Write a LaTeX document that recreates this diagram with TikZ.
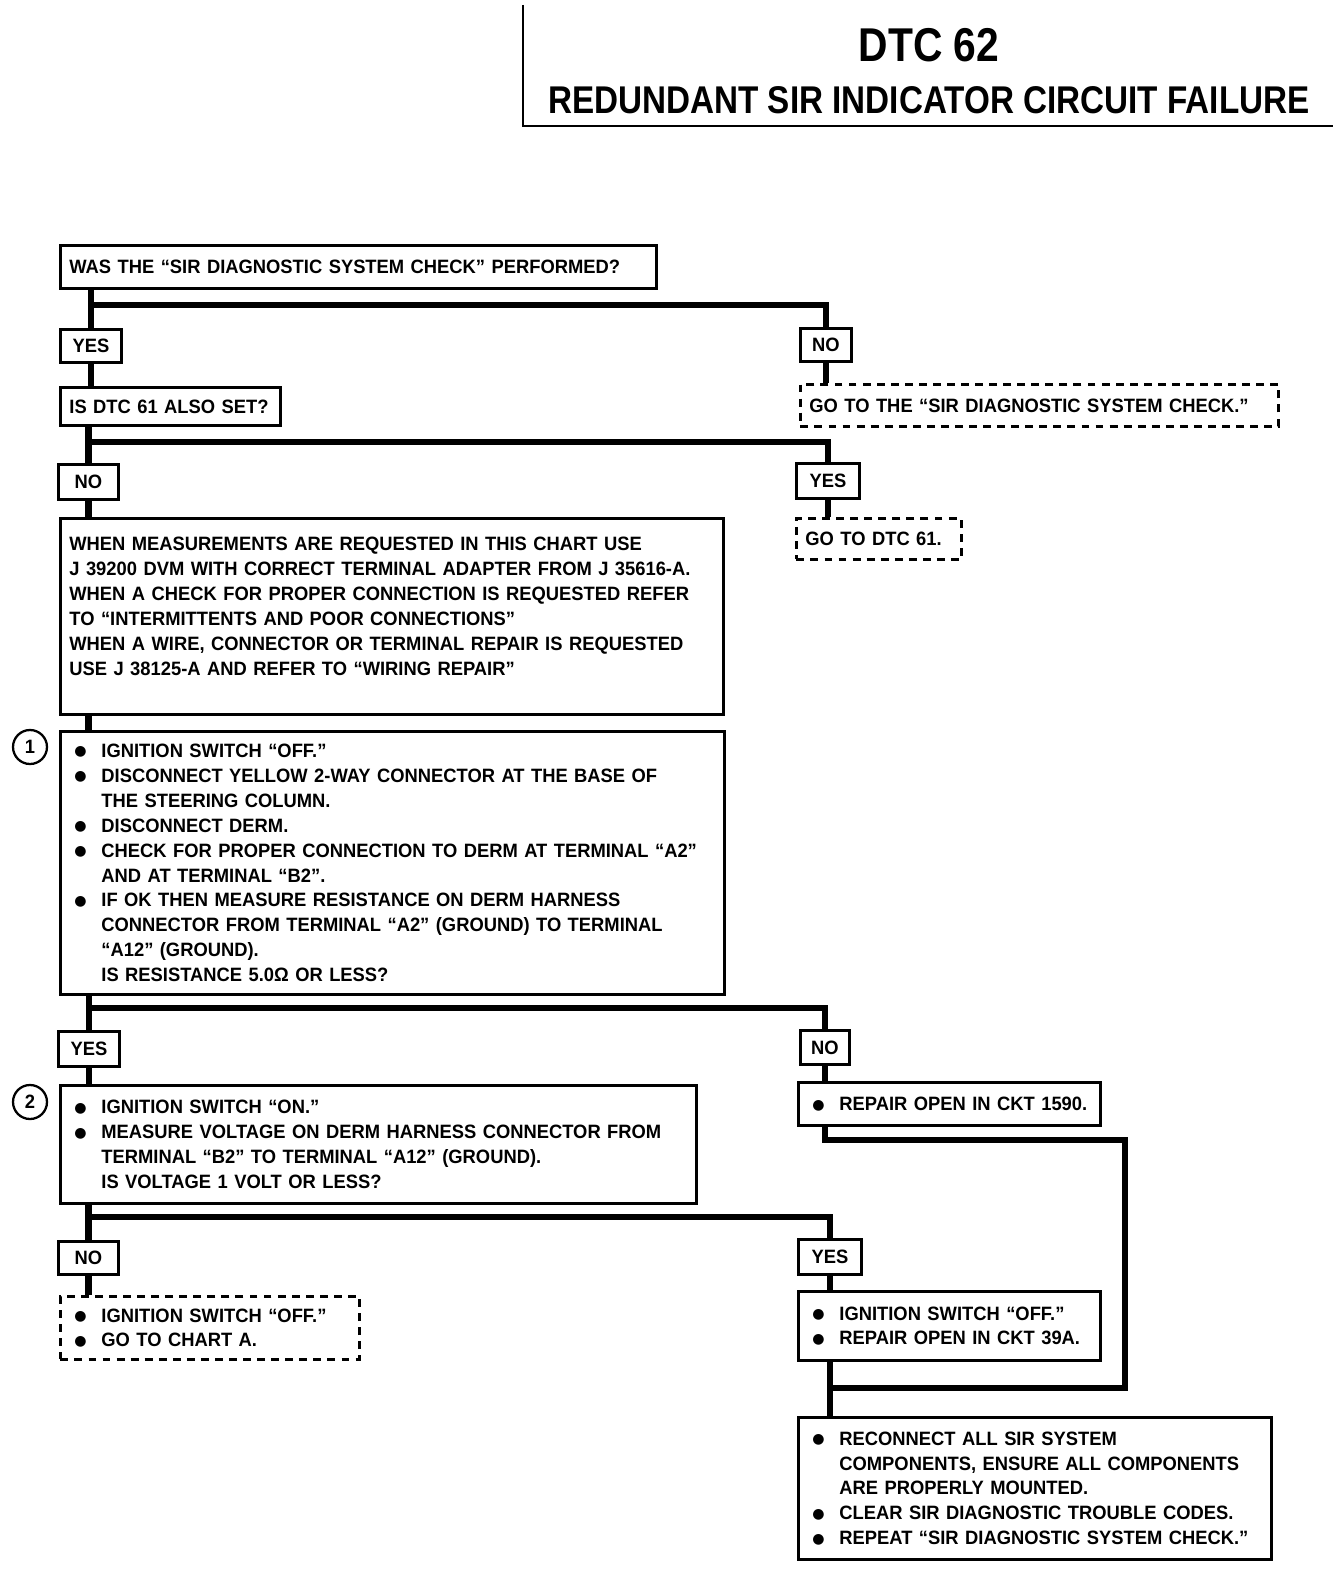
\documentclass[tikz,border=0pt]{standalone}
\usepackage{fontspec}
\setmainfont{Liberation Sans}
\newfontfamily\bodyfont[FakeStretch=0.95]{Liberation Sans}
\newfontfamily\titlefont[FakeStretch=0.86]{Liberation Sans}
\newfontfamily\symfont{DejaVu Sans}
\newcommand{\bul}{\hspace*{0.1cm}\makebox[0.54cm][l]{\raisebox{0.8pt}{\symfont\fontsize{8}{8}\selectfont ●}}}
\newcommand{\ind}{\hspace*{0.64cm}}

\begin{document}
\begin{tikzpicture}[x=0.02cm, y=-0.02cm,
  box/.style={draw, rectangle, line width=1.6pt, fill=white, anchor=north west,
    inner xsep=5pt, inner ysep=0pt, align=left,
    font={\bodyfont\bfseries\fontsize{11}{14.2}\selectfont}},
  dbox/.style={box, dash pattern=on 4.5pt off 3.5pt},
  answer/.style={draw, rectangle, line width=1.6pt, fill=white, anchor=north west,
    inner sep=0pt, font={\bodyfont\bfseries\fontsize{11}{13}\selectfont}},
  trunk/.style={line width=3.8pt},
  stepno/.style={draw, circle, line width=1.3pt, minimum size=0.68cm, inner sep=0pt,
    font={\bodyfont\bfseries\fontsize{11}{13}\selectfont}}]

\useasboundingbox (0,0) rectangle (1344,1574);

% --- Title ---
\draw[line width=1.3pt] (523,5) -- (523,126) -- (1333,126);
\node[font={\titlefont\bfseries\fontsize{27}{30}\selectfont}] (dtc) at (929,45) {DTC 62};
\node[font={\titlefont\bfseries\fontsize{22}{26}\selectfont}] (title) at (929,100) {REDUNDANT SIR INDICATOR CIRCUIT FAILURE};

% --- First questions ---
\node[box, minimum width=11.92cm, text width=11.56cm, minimum height=0.86cm] (q1) at (59,244)
  {WAS THE “SIR DIAGNOSTIC SYSTEM CHECK” PERFORMED?};
\node[answer, minimum width=1.22cm, minimum height=0.66cm] (yes1) at (59,328) {YES};
\node[answer, minimum width=1.02cm, minimum height=0.66cm] (no1) at (799,327) {NO};
\node[box, minimum width=4.4cm, text width=4.04cm, minimum height=0.76cm] (q2) at (59,386)
  {IS DTC 61 ALSO SET?};
\node[dbox, minimum width=9.56cm, text width=9.2cm, minimum height=0.84cm] (go1) at (799,383)
  {GO TO THE “SIR DIAGNOSTIC SYSTEM CHECK.”};
\node[answer, minimum width=1.2cm, minimum height=0.7cm] (no2) at (57,463) {NO};
\node[answer, minimum width=1.26cm, minimum height=0.7cm] (yes2) at (795,462) {YES};
\node[dbox, minimum width=3.3cm, text width=2.94cm, minimum height=0.82cm] (go2) at (795,517)
  {GO TO DTC 61.};

% --- Notes box ---
\node[box, minimum width=13.26cm, text width=12.9cm, minimum height=3.92cm] (info) at (59,517)
  {WHEN MEASUREMENTS ARE REQUESTED IN THIS CHART USE\\
   J 39200 DVM WITH CORRECT TERMINAL ADAPTER FROM J 35616-A.\\
   WHEN A CHECK FOR PROPER CONNECTION IS REQUESTED REFER\\
   TO “INTERMITTENTS AND POOR CONNECTIONS”\\
   WHEN A WIRE, CONNECTOR OR TERMINAL REPAIR IS REQUESTED\\
   USE J 38125-A AND REFER TO “WIRING REPAIR”\\[-3pt]\mbox{}};

% --- Step 1 ---
\node[box, minimum width=13.28cm, text width=12.92cm, minimum height=5.26cm] (step1) at (59,730)
  {\bul IGNITION SWITCH “OFF.”\\
   \bul DISCONNECT YELLOW 2-WAY CONNECTOR AT THE BASE OF\\
   \ind THE STEERING COLUMN.\\
   \bul DISCONNECT DERM.\\
   \bul CHECK FOR PROPER CONNECTION TO DERM AT TERMINAL “A2”\\
   \ind AND AT TERMINAL “B2”.\\
   \bul IF OK THEN MEASURE RESISTANCE ON DERM HARNESS\\
   \ind CONNECTOR FROM TERMINAL “A2” (GROUND) TO TERMINAL\\
   \ind “A12” (GROUND).\\
   \ind IS RESISTANCE 5.0Ω OR LESS?};
\node[stepno] (c1) at (30,747) {1};
\node[answer, minimum width=1.22cm, minimum height=0.7cm] (yes3) at (57,1030) {YES};
\node[answer, minimum width=0.98cm, minimum height=0.68cm] (no3) at (799,1029) {NO};

% --- Step 2 ---
\node[box, minimum width=12.72cm, text width=12.36cm, minimum height=2.36cm] (step2) at (59,1084)
  {\bul IGNITION SWITCH “ON.”\\
   \bul MEASURE VOLTAGE ON DERM HARNESS CONNECTOR FROM\\
   \ind TERMINAL “B2” TO TERMINAL “A12” (GROUND).\\
   \ind IS VOLTAGE 1 VOLT OR LESS?};
\node[stepno] (c2) at (30,1102) {2};
\node[box, minimum width=6.04cm, text width=5.68cm, minimum height=0.86cm] (fix1) at (797,1081)
  {\bul REPAIR OPEN IN CKT 1590.};
\node[answer, minimum width=1.2cm, minimum height=0.66cm] (no4) at (57,1240) {NO};
\node[answer, minimum width=1.26cm, minimum height=0.7cm] (yes4) at (797,1238) {YES};
\node[dbox, minimum width=5.98cm, text width=5.62cm, minimum height=1.26cm] (go3) at (59,1295)
  {\bul IGNITION SWITCH “OFF.”\\
   \bul GO TO CHART A.};
\node[box, minimum width=6.04cm, text width=5.68cm, minimum height=1.38cm] (fix2) at (797,1290)
  {\bul IGNITION SWITCH “OFF.”\\
   \bul REPAIR OPEN IN CKT 39A.};

% --- Final box ---
\node[box, minimum width=9.46cm, text width=9.1cm, minimum height=2.84cm] (final) at (797,1416)
  {\bul RECONNECT ALL SIR SYSTEM\\
   \ind COMPONENTS, ENSURE ALL COMPONENTS\\
   \ind ARE PROPERLY MOUNTED.\\
   \bul CLEAR SIR DIAGNOSTIC TROUBLE CODES.\\
   \bul REPEAT “SIR DIAGNOSTIC SYSTEM CHECK.”};

% --- Junctions ---
\coordinate (j1) at (yes1.north |- 0,305);
\coordinate (j2) at (no2.north |- 0,442);
\coordinate (j3) at (yes3.north |- 0,1008);
\coordinate (j4) at (no4.north |- 0,1217);
\coordinate (k1) at (1125,1140);
\coordinate (k2) at (1125,1388);
\coordinate (j5) at (yes4.south |- k2);

% --- Flow lines ---
\draw[trunk] (q1.south -| yes1.north) -- (yes1.north);
\draw[trunk] (j1) -| (no1.north);
\draw[trunk] (yes1.south) -- (yes1.south |- q2.north);
\draw[trunk] (no1.south) -- (no1.south |- go1.north);
\draw[trunk] (q2.south -| no2.north) -- (no2.north);
\draw[trunk] (j2) -| (yes2.north);
\draw[trunk] (yes2.south) -- (yes2.south |- go2.north);
\draw[trunk] (no2.south) -- (no2.south |- info.north);
\draw[trunk] (info.south -| no2.south) -- (no2.south |- step1.north);
\draw[trunk] (step1.south -| yes3.north) -- (yes3.north);
\draw[trunk] (j3) -| (no3.north);
\draw[trunk] (yes3.south) -- (yes3.south |- step2.north);
\draw[trunk] (no3.south) -- (no3.south |- fix1.north);
\draw[trunk] (step2.south -| no4.north) -- (no4.north);
\draw[trunk] (j4) -| (yes4.north);
\draw[trunk] (no4.south) -- (no4.south |- go3.north);
\draw[trunk] (yes4.south) -- (yes4.south |- fix2.north);
\draw[trunk] (fix1.south -| no3.south) |- (k1) -- (k2) -- (j5);
\draw[trunk] (fix2.south -| yes4.south) -- (yes4.south |- final.north);

\end{tikzpicture}
\end{document}
